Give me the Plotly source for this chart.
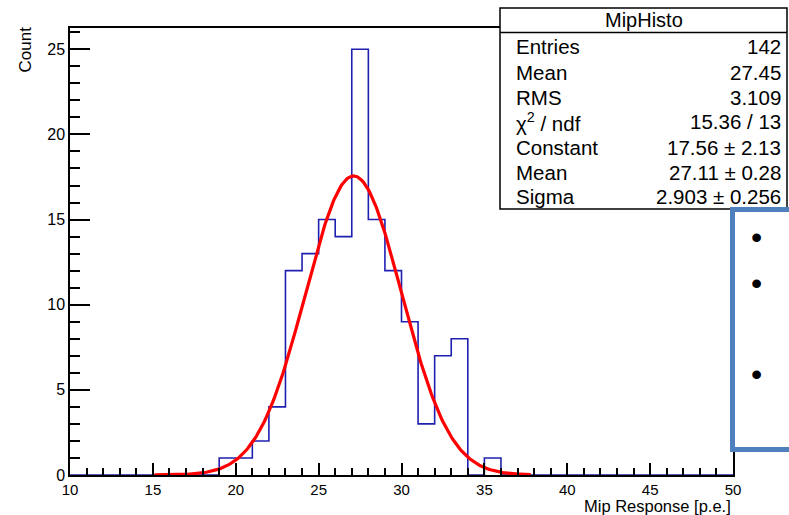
import numpy as np
import plotly.graph_objects as go

# ---- data ----
bin_low_edges = list(range(10, 50))          # 1 p.e. wide bins, 10..50
counts = [0, 0, 0, 0, 0, 0, 0, 0, 0,           # 10-18
          1, 1, 2, 4, 12, 13, 15, 14, 25,      # 19-27
          15, 12, 9, 3, 7, 8, 0, 1,            # 28-35
          0, 0, 0, 0, 0, 0, 0, 0, 0, 0, 0, 0, 0, 0]  # 36-49
bin_high_edge = 50

fit_constant = 17.56
fit_mean = 27.11
fit_sigma = 2.903
fit_xmin = 15.1
fit_xmax = 37.8

stat_labels = ["Entries", "Mean", "RMS", "χ<sup>2</sup> / ndf", "Constant", "Mean", "Sigma"]
stat_values = ["142", "27.45", "3.109", "15.36 / 13", "17.56 ± 2.13", "27.11 ± 0.28", "2.903 ± 0.256"]
stats_title = "MipHisto"

x_ticks = [10, 15, 20, 25, 30, 35, 40, 45, 50]
y_ticks = [0, 5, 10, 15, 20, 25]

# ---- layout helpers (pixel -> paper) ----
W, H = 789, 515
L, R, T, B = 70, 733, 28, 475


def pxx(x):
    return (x - L) / (R - L)


def pxy(y):
    return (B - y) / (B - T)


FONT = "Liberation Sans, Arial, Helvetica, sans-serif"

fig = go.Figure()

# histogram outline (ROOT-style step)
step_x = bin_low_edges + [bin_high_edge]
step_y = counts + [0]
fig.add_trace(go.Scatter(x=step_x, y=step_y, mode="lines", line_shape="hv",
                         line=dict(color="#2020B0", width=1.6), hoverinfo="skip"))

# gaussian fit
gx = np.linspace(fit_xmin, fit_xmax, 300)
gy = fit_constant * np.exp(-0.5 * ((gx - fit_mean) / fit_sigma) ** 2)
fig.add_trace(go.Scatter(x=gx, y=gy, mode="lines",
                         line=dict(color="#FF0000", width=3.2), hoverinfo="skip"))

shapes = []
annotations = []

# stats box
shapes.append(dict(type="rect", xref="paper", yref="paper",
                   x0=pxx(500), x1=pxx(787), y0=pxy(209), y1=pxy(8),
                   fillcolor="white", line=dict(color="black", width=1.5), layer="above"))
shapes.append(dict(type="line", xref="paper", yref="paper",
                   x0=pxx(500), x1=pxx(787), y0=pxy(32.5), y1=pxy(32.5),
                   line=dict(color="black", width=1.5), layer="above"))
annotations.append(dict(text=stats_title, xref="paper", yref="paper",
                        x=pxx(644), y=pxy(20.5), xanchor="center", yanchor="middle",
                        showarrow=False, font=dict(family=FONT, size=20, color="black")))
row_y = [47, 72, 97, 122, 147, 172, 196]
for lab, val, yy in zip(stat_labels, stat_values, row_y):
    annotations.append(dict(text=lab, xref="paper", yref="paper", x=pxx(514), y=pxy(yy),
                            xanchor="left", yanchor="middle", showarrow=False,
                            font=dict(family=FONT, size=20.5, color="black")))
    annotations.append(dict(text=val, xref="paper", yref="paper", x=pxx(783), y=pxy(yy),
                            xanchor="right", yanchor="middle", showarrow=False,
                            font=dict(family=FONT, size=20.5, color="black")))

# slide overlay box with bullets (blue frame at right)
shapes.append(dict(type="rect", xref="paper", yref="paper",
                   x0=pxx(732.5), x1=pxx(820), y0=pxy(449.5), y1=pxy(209.5),
                   fillcolor="rgba(255,255,255,1)", line=dict(color="#4F7FBC", width=5),
                   layer="above"))
for by in [237, 283, 374]:
    annotations.append(dict(text="•", xref="paper", yref="paper", x=pxx(756), y=pxy(by),
                            xanchor="center", yanchor="middle", showarrow=False,
                            font=dict(family=FONT, size=32, color="black")))

# axis titles
annotations.append(dict(text="Count", xref="paper", yref="paper", x=pxx(25.5), y=pxy(50),
                        xanchor="center", yanchor="middle", textangle=-90, showarrow=False,
                        font=dict(family=FONT, size=17, color="black")))
annotations.append(dict(text="Mip Response [p.e.]", xref="paper", yref="paper",
                        x=pxx(733), y=pxy(506), xanchor="right", yanchor="middle",
                        showarrow=False, font=dict(family=FONT, size=16.5, color="black")))

fig.update_layout(
    width=W, height=H, autosize=False,
    margin=dict(l=L, r=W - R, t=T, b=H - B, pad=0),
    paper_bgcolor="white", plot_bgcolor="white",
    showlegend=False,
    shapes=shapes, annotations=annotations,
    xaxis=dict(range=[10, 50], tickvals=x_ticks, ticktext=[str(v) for v in x_ticks],
               ticks="inside", ticklen=12, tickwidth=1.5, tickcolor="black",
               minor=dict(dtick=1, ticks="inside", ticklen=7, tickwidth=1.5, tickcolor="black",
                          showgrid=False),
               showline=True, linecolor="black", linewidth=1.5, mirror=True,
               showgrid=False, zeroline=False,
               tickfont=dict(family=FONT, size=15, color="black")),
    yaxis=dict(range=[0, 26.25], tickvals=y_ticks, ticktext=[str(v) for v in y_ticks],
               ticks="inside", ticklen=20, tickwidth=1.5, tickcolor="black",
               minor=dict(dtick=1, ticks="inside", ticklen=10, tickwidth=1.5, tickcolor="black",
                          showgrid=False),
               showline=True, linecolor="black", linewidth=1.5, mirror=True,
               showgrid=False, zeroline=False,
               tickfont=dict(family=FONT, size=16, color="black")),
)

fig.write_html("out.html", config={"displayModeBar": False},
               post_script="document.body.style.margin='0';document.body.style.overflow='hidden';")
